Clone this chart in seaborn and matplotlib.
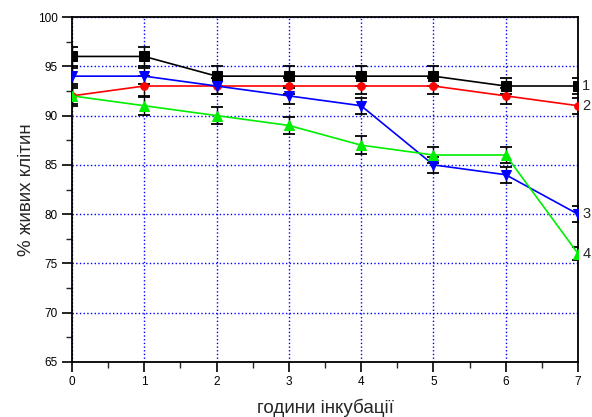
import matplotlib as mpl
mpl.use('Agg')
import matplotlib.pyplot as plt
import seaborn as sns
import pandas as pd
from matplotlib.ticker import MultipleLocator

hours = [0, 1, 2, 3, 4, 5, 6, 7]
curve1 = [96, 96, 94, 94, 94, 94, 93, 93]
curve2 = [92, 93, 93, 93, 93, 93, 92, 91]
curve3 = [94, 94, 93, 92, 91, 85, 84, 80]
curve4 = [92, 91, 90, 89, 87, 86, 86, 76]
err1 = [1.0, 1.0, 1.0, 1.0, 1.0, 1.0, 0.8, 0.8]
err2 = [0.8, 1.0, 0.8, 0.8, 0.8, 0.8, 0.8, 0.8]
err3 = [0.8, 0.8, 0.8, 0.8, 0.8, 0.8, 0.8, 0.8]
err4 = [1.0, 0.9, 0.9, 0.9, 0.9, 0.8, 0.8, 0.7]
labels = ['1', '2', '3', '4']

sns.set_style('ticks')
plt.rcParams['font.family'] = ['Liberation Sans', 'DejaVu Sans']

series = [
    (curve1, err1, 'black', 's', 6.5),
    (curve2, err2, 'red', 'o', 5.5),
    (curve3, err3, 'blue', 'v', 6.5),
    (curve4, err4, '#00ee00', '^', 6.5),
]

fig = plt.figure(figsize=(5.92, 4.17), dpi=100)
ax = fig.add_axes([0.1216, 0.1319, 0.8547, 0.8273])

for vals, err, col, mk, ms in series:
    ax.errorbar(hours, vals, yerr=err, fmt='none', ecolor='black',
                elinewidth=1.0, capsize=4.5, capthick=1.3, zorder=2)
    df = pd.DataFrame({'h': hours, 'v': vals})
    sns.lineplot(data=df, x='h', y='v', ax=ax, color=col, marker=mk,
                 markersize=ms, markeredgecolor=col, linewidth=1.2, zorder=3)

for lab, vals in zip(labels, [curve1, curve2, curve3, curve4]):
    ax.text(hours[-1] + 0.06, vals[-1], lab, fontsize=10.5, va='center',
            ha='left', clip_on=False)

ax.set_xlim(0, 7)
ax.set_ylim(65, 100)
ax.xaxis.set_major_locator(MultipleLocator(1))
ax.xaxis.set_minor_locator(MultipleLocator(0.5))
ax.yaxis.set_major_locator(MultipleLocator(5))
ax.yaxis.set_minor_locator(MultipleLocator(2.5))
ax.tick_params(which='major', direction='out', length=7, width=1.2,
               labelsize=8.5, colors='black', pad=3)
ax.tick_params(which='minor', direction='out', length=4, width=1.0)
ax.grid(True, which='major', color='blue', linestyle=':', linewidth=1.0)

for sp in ax.spines.values():
    sp.set_linewidth(1.3)
    sp.set_color('black')

ax.set_xlabel('години інкубації', fontsize=13.5, labelpad=8)
ax.set_ylabel('% живих клітин', fontsize=13.5, labelpad=2)

fig.savefig('out.png', dpi=100)
